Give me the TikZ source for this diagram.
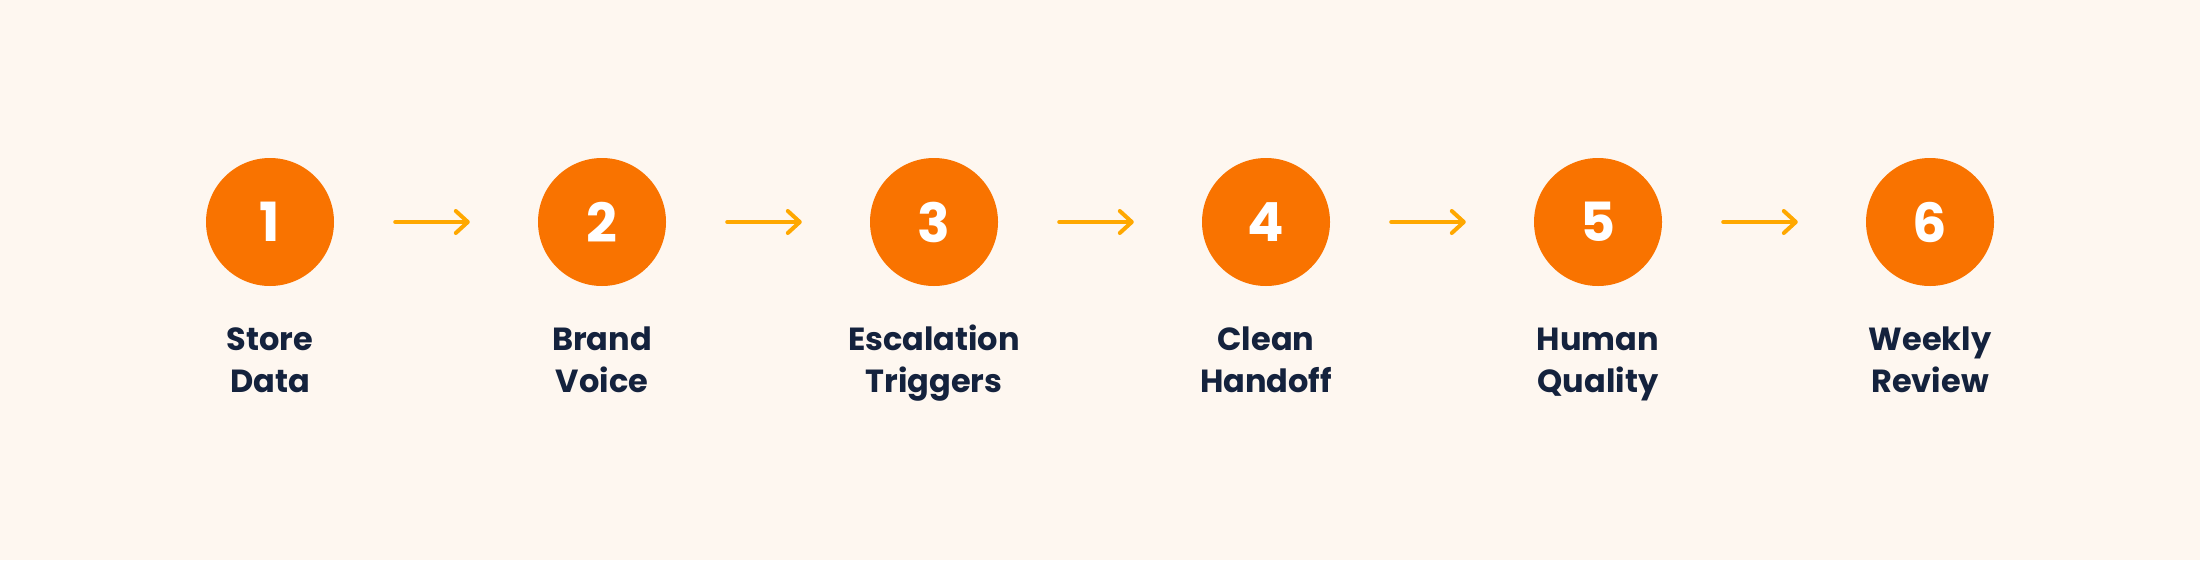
\documentclass[tikz,border=0pt]{standalone}
\usepackage{fontspec}
\setmainfont{Poppins}
\usetikzlibrary{arrows.meta}
\definecolor{bg}{HTML}{FEF7F0}
\definecolor{orng}{HTML}{F97300}
\definecolor{amber}{HTML}{FFA800}
\definecolor{navy}{HTML}{14223D}
\tikzset{
  stepcircle/.style={circle, fill=orng, minimum size=128pt, inner sep=0pt,
    text=white, font=\fontsize{54}{54}\selectfont\bfseries},
  steplabel/.style={anchor=base, align=center, text=navy, inner sep=0pt,
    font=\fontsize{32}{42}\selectfont\bfseries},
  flow/.style={draw=amber, line width=4pt, line cap=round,
    -{Straight Barb[length=12pt,width=22pt,line width=4pt,round]},
    shorten <=61pt, shorten >=68pt}
}
\begin{document}
\begin{tikzpicture}[x=1pt,y=-1pt]
\fill[bg] (0,0) rectangle (2200,560);
\useasboundingbox (0,0) rectangle (2200,560);
\foreach \i/\x/\a/\b in {1/270/Store/Data, 2/602/Brand/Voice, 3/934/Escalation/Triggers,
  4/1266/Clean/Handoff, 5/1598/Human/Quality, 6/1930/Weekly/Review}{
  \node[stepcircle] (c\i) at (\x,222) {\i};
  \node[steplabel] (l\i) at (\x,392) {\a\\\b};
}
\foreach \i/\j in {1/2,2/3,3/4,4/5,5/6}{
  \draw[flow] (c\i) -- (c\j);
}
\end{tikzpicture}
\end{document}
